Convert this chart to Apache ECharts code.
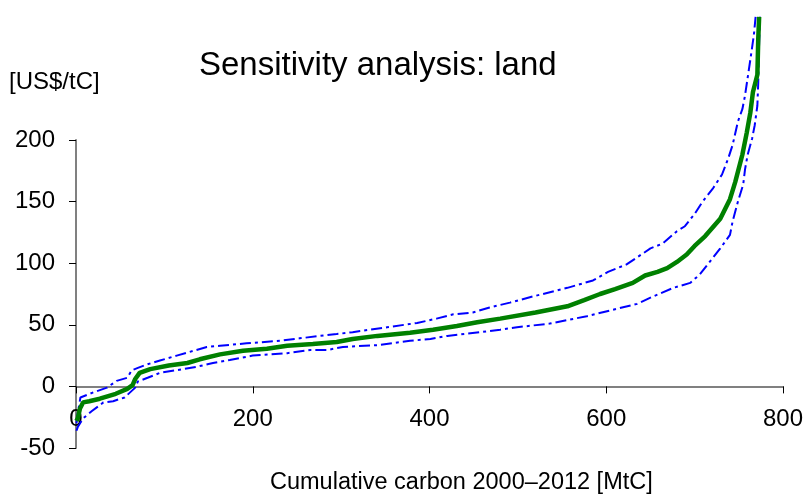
<!DOCTYPE html>
<html>
<head>
<meta charset="utf-8">
<script src="https://cdn.jsdelivr.net/npm/echarts@6/dist/echarts.min.js"></script>
<style>html,body{margin:0;padding:0;background:#fff}#c{width:803px;height:495px}</style>
</head>
<body>
<div id="c"></div>
<script>
// Central estimate (green)
const centralX = [0.5, 2, 4.5, 8, 15, 27, 45, 58, 64, 67, 72, 84, 105, 126, 140, 163, 189, 216, 239, 268, 295, 313, 341, 378, 404, 431, 454, 480, 520, 556, 575, 593, 610, 630, 644, 658, 669, 680, 691, 700, 712, 729, 740, 746, 754, 759, 763, 766, 771, 772, 773];
const centralY = [-28, -26, -18, -13, -12, -10, -6, -2, 1, 6, 11, 14, 17, 19, 22, 26, 29, 30.5, 33, 34.5, 36, 38.5, 41, 43.5, 46, 49, 52, 55, 60, 65, 70, 75, 79, 84, 90, 93, 96, 101, 107, 114, 122, 136, 152, 166, 188, 206, 222, 239, 253, 282, 300];
// Upper bound (blue dash-dot)
const upperX = [0.5, 2, 5, 19, 35, 46, 58, 63, 70, 81, 95, 114, 148, 163, 193, 231, 253, 276, 295, 313, 352, 386, 408, 427, 449, 468, 491, 517, 556, 585, 602, 623, 650, 664, 680, 689, 700, 709, 721, 731, 738, 743, 749, 754, 757, 763, 767, 769];
const upperY = [-30, -22, -9, -5, -1, 4.5, 7, 13, 15, 18, 21, 25, 32, 33, 35, 37, 39, 41, 42.5, 44, 48, 51.5, 55, 58.5, 60, 64, 68, 73, 80, 86, 93, 99, 112, 116, 126, 130, 140, 150, 161, 172, 185, 196, 215, 225, 236, 265, 285, 300];
// Lower bound (blue dash-dot)
const lowerX = [0.5, 2, 8, 10, 18, 31, 42, 55, 67, 70, 81, 95, 121, 137, 155, 174, 200, 220, 239, 265, 284, 302, 341, 378, 401, 420, 457, 480, 499, 536, 578, 612, 635, 653, 676, 695, 706, 729, 740, 743, 749, 755, 757, 760, 765, 768, 771, 772, 773, 774];
const lowerY = [-36, -33, -26, -25, -20, -13, -12, -9, -1, 4, 7, 11, 14, 16, 19, 21.5, 25, 26, 27, 29.5, 29.5, 32, 33.5, 37, 38.5, 41, 44, 46, 48, 51, 57, 63, 67, 73, 80, 84, 91, 112, 123, 134, 150, 164, 176, 188, 201, 212, 228, 247, 279, 300];
// Axis ticks
const xTicks = [0, 200, 400, 600, 800];
const yTicks = [-50, 0, 50, 100, 150, 200];

const zip = (xs, ys) => xs.map((x, i) => [x, ys[i]]);
const font = "'Liberation Sans', Arial, sans-serif";
const chart = echarts.init(document.getElementById('c'), null, {renderer: 'canvas'});
const dashDot = [11, 4, 3, 4];
const gridTop = 140, gridBottom = 47, gridH = 495 - gridTop - gridBottom;
const yMin = yTicks[0], yMax = yTicks[yTicks.length - 1];
// shift x axis up to the y = 0 line
const zeroOffset = -gridH * (0 - yMin) / (yMax - yMin);
chart.setOption({
  animation: false,
  backgroundColor: '#fff',
  title: [
    {text: 'Sensitivity analysis: land', left: 199, top: 49, padding: 0,
     textStyle: {fontFamily: font, fontSize: 33, fontWeight: 'normal', color: '#000'}},
    {text: '[US$/tC]', left: 9, top: 70, padding: 0,
     textStyle: {fontFamily: font, fontSize: 24, fontWeight: 'normal', color: '#000'}},
    {text: 'Cumulative carbon 2000–2012 [MtC]', left: 270, top: 471, padding: 0,
     textStyle: {fontFamily: font, fontSize: 23.5, fontWeight: 'normal', color: '#000'}}
  ],
  grid: {left: 76, right: 20, top: gridTop, bottom: gridBottom, containLabel: false, outerBoundsMode: 'none'},
  xAxis: {
    type: 'value', min: xTicks[0], max: xTicks[xTicks.length - 1], interval: 200,
    position: 'bottom', offset: zeroOffset,
    axisLine: {onZero: false, lineStyle: {color: '#808080', width: 2}},
    axisTick: {show: true, length: 7, lineStyle: {color: '#000', width: 1}},
    axisLabel: {fontFamily: font, fontSize: 24, color: '#000', margin: 21},
    splitLine: {show: false}
  },
  yAxis: {
    type: 'value', min: yMin, max: yMax, interval: 50,
    axisLine: {show: true, onZero: false, lineStyle: {color: '#808080', width: 2}},
    axisTick: {show: true, length: 7, lineStyle: {color: '#000', width: 1}},
    axisLabel: {fontFamily: font, fontSize: 24, color: '#000', margin: 21},
    splitLine: {show: false}
  },
  series: [
    {type: 'line', name: 'upper', data: zip(upperX, upperY), showSymbol: false, clip: false,
     lineStyle: {color: '#0000FF', width: 2, type: dashDot}},
    {type: 'line', name: 'lower', data: zip(lowerX, lowerY), showSymbol: false, clip: false,
     lineStyle: {color: '#0000FF', width: 2, type: dashDot}},
    {type: 'line', name: 'central', data: zip(centralX, centralY), showSymbol: false, clip: false,
     lineStyle: {color: '#008000', width: 4.5}}
  ]
});
</script>
</body>
</html>
